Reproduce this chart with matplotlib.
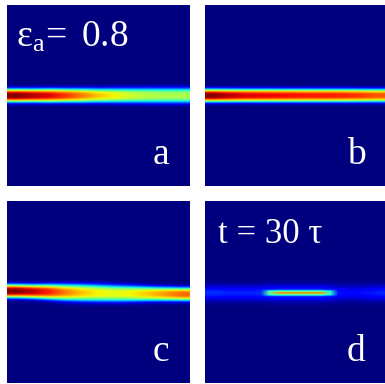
import matplotlib
matplotlib.use('Agg')
import matplotlib.pyplot as plt
import numpy as np

# beam peak intensity along propagation (left -> right), width and centre (panel fractions)
x_coarse = [0.0, 0.1, 0.2, 0.3, 0.4, 0.5, 0.6, 0.7, 0.8, 0.9, 1.0]
peak_a = [1.0, 0.96, 0.92, 0.86, 0.78, 0.70, 0.65, 0.60, 0.57, 0.56, 0.56]
width_a = [0.036, 0.036, 0.037, 0.037, 0.038, 0.038, 0.039, 0.040, 0.041, 0.041, 0.041]
centre_a = [0.50] * 11

peak_b = [1.0, 0.95, 0.92, 0.91, 0.90, 0.89, 0.88, 0.88, 0.87, 0.85, 0.82]
width_b = [0.035] * 11
centre_b = [0.50] * 11

peak_c = [1.0, 0.95, 0.88, 0.78, 0.70, 0.65, 0.63, 0.65, 0.70, 0.75, 0.80]
width_c = [0.036, 0.037, 0.040, 0.043, 0.045, 0.045, 0.044, 0.042, 0.039, 0.037, 0.036]
centre_c = [0.495, 0.497, 0.499, 0.502, 0.504, 0.506, 0.508, 0.509, 0.510, 0.511, 0.512]

x_fine = [0.0, 0.05, 0.1, 0.15, 0.2, 0.25, 0.3, 0.35, 0.4, 0.45, 0.5,
          0.55, 0.6, 0.65, 0.7, 0.75, 0.8, 0.85, 0.9, 0.95, 1.0]
glow_d = [0.17, 0.17, 0.16, 0.16, 0.16, 0.16, 0.17, 0.19, 0.20, 0.20, 0.20,
          0.20, 0.20, 0.20, 0.18, 0.14, 0.13, 0.13, 0.14, 0.15, 0.16]
spot_d = [0.0, 0.0, 0.0, 0.0, 0.0, 0.0, 0.05, 0.46, 0.50, 0.50, 0.50,
          0.50, 0.50, 0.50, 0.42, 0.0, 0.0, 0.0, 0.0, 0.0, 0.0]
core_d = [0.0, 0.0, 0.0, 0.0, 0.0, 0.0, 0.0, 0.20, 0.85, 0.85, 0.85,
          0.85, 0.85, 0.85, 0.20, 0.0, 0.0, 0.0, 0.0, 0.0, 0.0]
centre_d = 0.505
glow_width_d = 0.04
spot_width_d = 0.018
core_width_d = 0.007

labels = ['a', 'b', 'c', 'd']

y = np.linspace(0, 1, 541)


def field(peak, width, centre, power=3):
    p = np.array(peak)[None, :]
    w = np.array(width)[None, :]
    c = np.array(centre)[None, :]
    return p * np.exp(-np.abs((y[:, None] - c) / w) ** power)


n = len(x_fine)
img_a = field(peak_a, width_a, centre_a)
img_b = field(peak_b, width_b, centre_b)
img_c = field(peak_c, width_c, centre_c)
img_d = np.maximum.reduce([field(glow_d, [glow_width_d] * n, [centre_d] * n, 2),
                           field(spot_d, [spot_width_d] * n, [centre_d] * n, 4),
                           field(core_d, [core_width_d] * n, [centre_d] * n, 2)])

plt.rcParams['font.family'] = ['Liberation Serif', 'DejaVu Serif']
plt.rcParams['mathtext.fontset'] = 'stix'

fig = plt.figure(figsize=(3.85, 3.84), dpi=100)
boxes = [[7/385, 198/384, 183/385, 181/384],
         [205/385, 198/384, 180/385, 181/384],
         [7/385, 1/384, 183/385, 182/384],
         [205/385, 1/384, 180/385, 182/384]]

for img, box, lbl in zip([img_a, img_b, img_c, img_d], boxes, labels):
    ax = fig.add_axes(box)
    ax.imshow(img, cmap='jet', vmin=0, vmax=1, aspect='auto',
              extent=[0, 1, 1, 0], interpolation='bilinear')
    ax.set_xlim(0, 1)
    ax.set_ylim(1, 0)
    ax.set_xticks([])
    ax.set_yticks([])
    for s in ax.spines.values():
        s.set_visible(False)
    ax.text(0.84, 0.12, lbl, color='white', fontsize=27, ha='center',
            va='baseline', transform=ax.transAxes)
    if lbl == 'a':
        ax.text(0.05, 0.77, r'$\mathregular{ε_a\!=\ 0.8}$', color='white',
                fontsize=27, va='baseline', transform=ax.transAxes)
    if lbl == 'd':
        ax.text(0.07, 0.77, 't = 30 τ', color='white', fontsize=25,
                va='baseline', transform=ax.transAxes)

fig.savefig('out.png', dpi=100)
